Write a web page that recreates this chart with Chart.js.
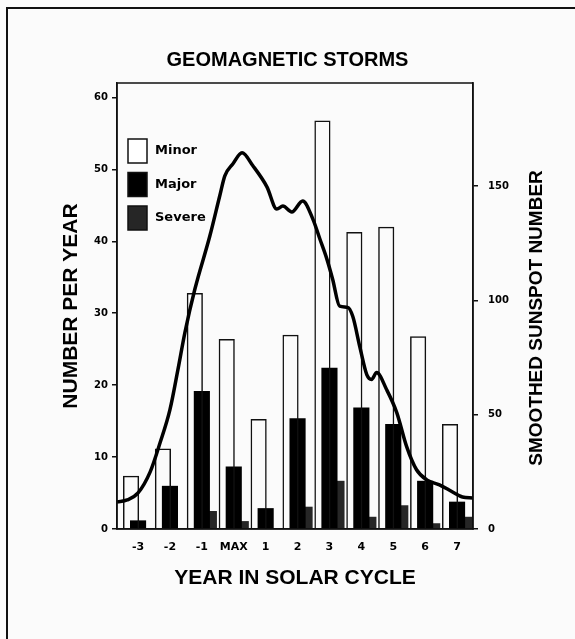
<!DOCTYPE html>
<html>
<head>
<meta charset="utf-8">
<script src="https://cdn.jsdelivr.net/npm/chart.js@4.4.1/dist/chart.umd.min.js"></script>
<style>
  html, body { margin: 0; padding: 0; background: #fbfbfb; }
  #wrap { position: relative; width: 575px; height: 639px; overflow: hidden; }
  #frame { position: absolute; left: 6px; top: 7px; width: 640px; height: 700px; border: 2px solid #111; }
  canvas { position: absolute; left: 0; top: 0; }
</style>
</head>
<body>
<div id="wrap">
  <div id="frame"></div>
  <canvas id="myChart" width="575" height="639"></canvas>
</div>
<script>
// year in solar cycle (0 = MAX)
const years = [-3, -2, -1, 0, 1, 2, 3, 4, 5, 6, 7];
const yearLabels = ['-3', '-2', '-1', 'MAX', '1', '2', '3', '4', '5', '6', '7'];

// storms per year
const minor  = [7.4, 11.2, 32.8, 26.4, 15.3, 27.0, 56.8, 41.3, 42.0, 26.8, 14.6];
const major  = [1.2, 6.0, 19.2, 8.7, 2.9, 15.4, 22.4, 16.9, 14.6, 6.7, 3.8];
const severe = [0, 0, 2.5, 1.1, 0, 3.1, 6.7, 1.7, 3.3, 0.8, 1.7];

// smoothed sunspot number
const sunspotYears = [-3.66, -3.34, -3.0, -2.62, -2.31, -2.0, -1.75, -1.53, -1.22, -0.75, -0.44, -0.28, -0.03, 0.26, 0.60, 1.04, 1.35, 1.54, 1.82, 2.16, 2.48, 2.70, 2.92, 3.10, 3.32, 3.57, 3.73, 3.95, 4.17, 4.32, 4.48, 4.79, 5.11, 5.42, 5.73, 6.05, 6.45, 6.86, 7.17, 7.49];
const sunspot      = [11.8, 12.7, 15.8, 25.0, 37.7, 52.2, 69.7, 86.0, 104.8, 128.1, 145.6, 154.4, 159.6, 164.5, 158.8, 149.6, 139.9, 141.2, 138.6, 143.4, 135.5, 126.8, 118.0, 109.2, 97.4, 96.9, 93.0, 79.8, 67.5, 65.4, 68.4, 61.0, 50.9, 36.0, 25.9, 21.5, 19.3, 16.2, 14.0, 13.6];

const leftTicks = [0, 10, 20, 30, 40, 50, 60];
const rightTicks = [0, 50, 100, 150];

const ctx = document.getElementById('myChart');
const tickFont = { family: "'DejaVu Sans', sans-serif", weight: 'bold' };

// frame, legend and right title drawn on top
const decor = {
  id: 'decor',
  afterDraw(chart) {
    const c = chart.ctx, a = chart.chartArea;
    c.save();
    c.strokeStyle = '#111';
    c.lineWidth = 1.5;
    c.strokeRect(a.left, a.top, a.right - a.left, a.bottom - a.top);

    // legend
    const bars = chart.data.datasets.filter(d => d.type === 'bar');
    c.font = "bold 13px 'DejaVu Sans', sans-serif";
    c.textBaseline = 'middle';
    c.fillStyle = '#000';
    bars.forEach((d, i) => {
      const x = a.left + 11, y = a.top + 56 + i * 33.5;
      c.fillStyle = d.swatch || d.backgroundColor;
      c.fillRect(x, y, 19, 24);
      c.lineWidth = 1.5;
      c.strokeStyle = '#111';
      c.strokeRect(x, y, 19, 24);
      c.fillStyle = '#000';
      c.fillText(d.label, x + 27, y + 12);
    });

    // right axis title, reads bottom to top
    c.translate(a.right + 64, (a.top + a.bottom) / 2 + 12);
    c.rotate(-Math.PI / 2);
    c.textAlign = 'center';
    c.font = "bold 19px 'Liberation Sans', Arial, sans-serif";
    c.fillText('SMOOTHED SUNSPOT NUMBER', 0, 0);
    c.restore();
  }
};

const barSet = (label, values, bg, extra) => Object.assign({
  type: 'bar',
  label: label,
  data: values.map((v, i) => ({ x: years[i], y: v })),
  backgroundColor: bg,
  borderWidth: 0,
  categoryPercentage: 0.66,
  barPercentage: 2.3,
  xAxisID: 'x',
  yAxisID: 'y'
}, extra);

new Chart(ctx, {
  type: 'bar',
  data: {
    datasets: [
      {
        type: 'line',
        label: 'Smoothed sunspot number',
        data: sunspotYears.map((x, i) => ({ x: x, y: sunspot[i] })),
        borderColor: '#000',
        borderWidth: 3.5,
        pointRadius: 0,
        tension: 0.4,
        cubicInterpolationMode: 'monotone',
        xAxisID: 'x',
        yAxisID: 'y2'
      },
      barSet('Minor', minor, 'rgba(255,255,255,0)', { borderWidth: 1.5, borderColor: '#111', swatch: '#fff' }),
      barSet('Major', major, '#000'),
      barSet('Severe', severe, '#262626')
    ]
  },
  options: {
    responsive: false,
    animation: false,
    layout: { padding: 0 },
    plugins: {
      legend: { display: false },
      tooltip: { enabled: false },
      title: {
        display: true,
        text: 'GEOMAGNETIC STORMS',
        color: '#000',
        font: { family: "'Liberation Sans', Arial, sans-serif", size: 20, weight: 'bold' },
        padding: { top: 48, bottom: 11 }
      }
    },
    scales: {
      x: {
        type: 'linear',
        position: 'bottom',
        min: -3.66,
        max: 7.5,
        offset: false,
        afterBuildTicks: s => { s.ticks = years.map(v => ({ value: v })); },
        afterFit: s => { s.height = 110; },
        grid: { display: false, drawTicks: false, offset: false },
        border: { display: true, color: '#111', width: 1.5 },
        ticks: {
          font: Object.assign({ size: 11 }, tickFont),
          color: '#000',
          padding: 12,
          autoSkip: false,
          maxRotation: 0,
          callback: v => yearLabels[years.indexOf(v)]
        },
        title: {
          display: true,
          text: 'YEAR IN SOLAR CYCLE',
          color: '#000',
          font: { family: "'Liberation Sans', Arial, sans-serif", size: 21, weight: 'bold' },
          padding: { top: 0, bottom: 48 }
        }
      },
      y: {
        position: 'left',
        min: 0,
        max: 62,
        afterBuildTicks: s => { s.ticks = leftTicks.map(v => ({ value: v })); },
        afterFit: s => { s.width = 117; },
        grid: { drawOnChartArea: false, drawTicks: true, tickLength: 5, color: '#111', lineWidth: 1.5 },
        border: { display: true, color: '#111', width: 1.5 },
        ticks: { font: Object.assign({ size: 10 }, tickFont), color: '#000', padding: 4, autoSkip: false },
        title: {
          display: true,
          text: 'NUMBER PER YEAR',
          color: '#000',
          font: { family: "'Liberation Sans', Arial, sans-serif", size: 21, weight: 'bold' },
          padding: { top: 59, bottom: 0 }
        }
      },
      y2: {
        position: 'right',
        min: 0,
        max: 195,
        afterBuildTicks: s => { s.ticks = rightTicks.map(v => ({ value: v })); },
        afterFit: s => { s.width = 102; },
        grid: { drawOnChartArea: false, drawTicks: true, tickLength: 5, color: '#111', lineWidth: 1.5 },
        border: { display: true, color: '#111', width: 1.5 },
        ticks: { font: Object.assign({ size: 10 }, tickFont), color: '#000', padding: 10, autoSkip: false }
      }
    }
  },
  plugins: [decor]
});
</script>
</body>
</html>
